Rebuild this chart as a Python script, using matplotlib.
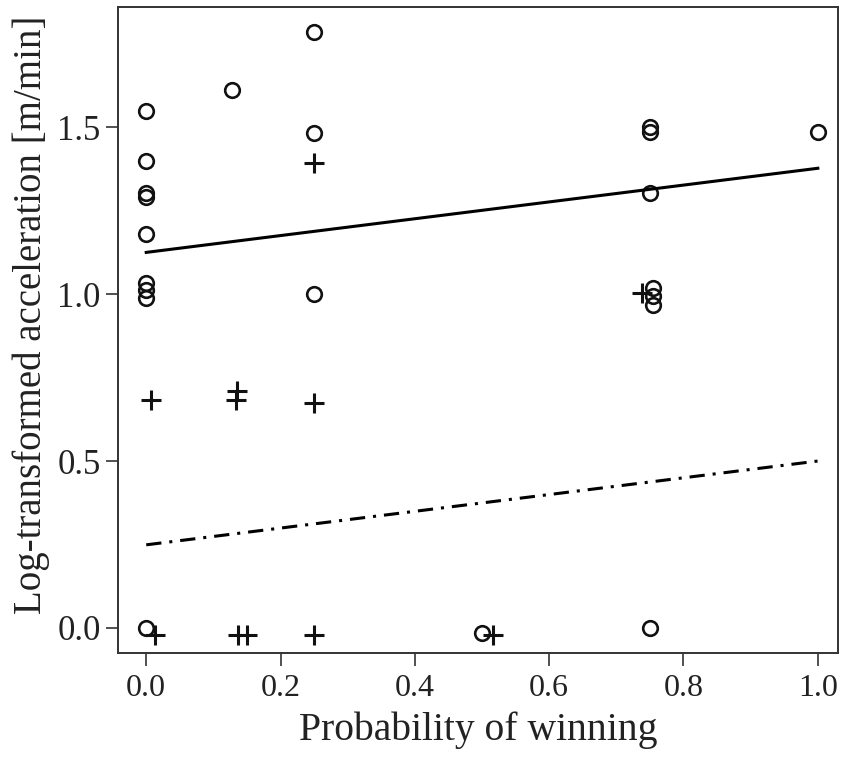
import matplotlib
matplotlib.use("Agg")
import matplotlib.pyplot as plt
import numpy as np

# circles (group 1)
circ_x = [0.0, 0.0, 0.0, 0.0, 0.0, 0.0, 0.0, 0.0, 0.0,
          0.128, 0.25, 0.25, 0.25,
          0.5, 0.75, 0.75, 0.75, 0.755, 0.755, 0.755, 0.75, 1.0]
circ_y = [1.55, 1.40, 1.302, 1.29, 1.18, 1.033, 1.012, 0.988, 0.0,
          1.61, 1.784, 1.482, 1.0,
          -0.015, 1.50, 1.485, 1.302, 1.018, 0.994, 0.967, 0.0, 1.485]

# crosses (group 2)
plus_x = [0.007, 0.135, 0.134, 0.25, 0.25, 0.738,
          0.013, 0.137, 0.15, 0.25, 0.516]
plus_y = [0.683, 0.71, 0.683, 0.673, 1.392, 1.003,
          -0.02, -0.02, -0.02, -0.02, -0.02]

# fitted lines
fit_x = [0.0, 1.0]
fit_solid = [1.125, 1.377]
fit_dashdot = [0.249, 0.50]

serif = ['Liberation Serif', 'DejaVu Serif']

fig = plt.figure(figsize=(8.46, 7.64), dpi=100)
ax = fig.add_axes([0.1395, 0.1453, 0.851, 0.8455])

ax.plot(circ_x, circ_y, linestyle='none', marker='o', markersize=10.5,
        markerfacecolor='none', markeredgecolor='#111111', markeredgewidth=1.9)
ax.plot(plus_x, plus_y, linestyle='none', marker='+', markersize=14,
        color='#111111', markeredgewidth=2.2)
ax.plot(fit_x, fit_solid, color='black', linewidth=2.2)
ax.plot(fit_x, fit_dashdot, color='black', linewidth=2.2,
        dashes=(5, 2.6, 1, 2.6))

ax.set_xlim(-0.042, 1.03)
ax.set_ylim(-0.075, 1.86)
ax.set_xticks([0.0, 0.2, 0.4, 0.6, 0.8, 1.0])
ax.set_yticks([0.0, 0.5, 1.0, 1.5])
ax.set_xticklabels(['0.0', '0.2', '0.4', '0.6', '0.8', '1.0'])
ax.set_yticklabels(['0.0', '0.5', '1.0', '1.5'])
ax.tick_params(direction='out', length=9, width=1.2, colors='#333333',
               labelcolor='#222222')
ax.tick_params(axis='x', pad=6)
for lab in ax.get_yticklabels():
    lab.set_family(serif)
    lab.set_fontsize(25)
for lab in ax.get_xticklabels():
    lab.set_family(serif)
    lab.set_fontsize(23)
for sp in ax.spines.values():
    sp.set_linewidth(1.4)
    sp.set_color('#333333')

ax.set_xlabel('Probability of winning', fontsize=28.5, family=serif,
              color='#222222', labelpad=6)
ax.set_ylabel('Log-transformed acceleration [m/min]', fontsize=28,
              family=serif, color='#222222')
ax.yaxis.set_label_coords(-0.095, 0.523)

fig.savefig('out.png', dpi=100)
